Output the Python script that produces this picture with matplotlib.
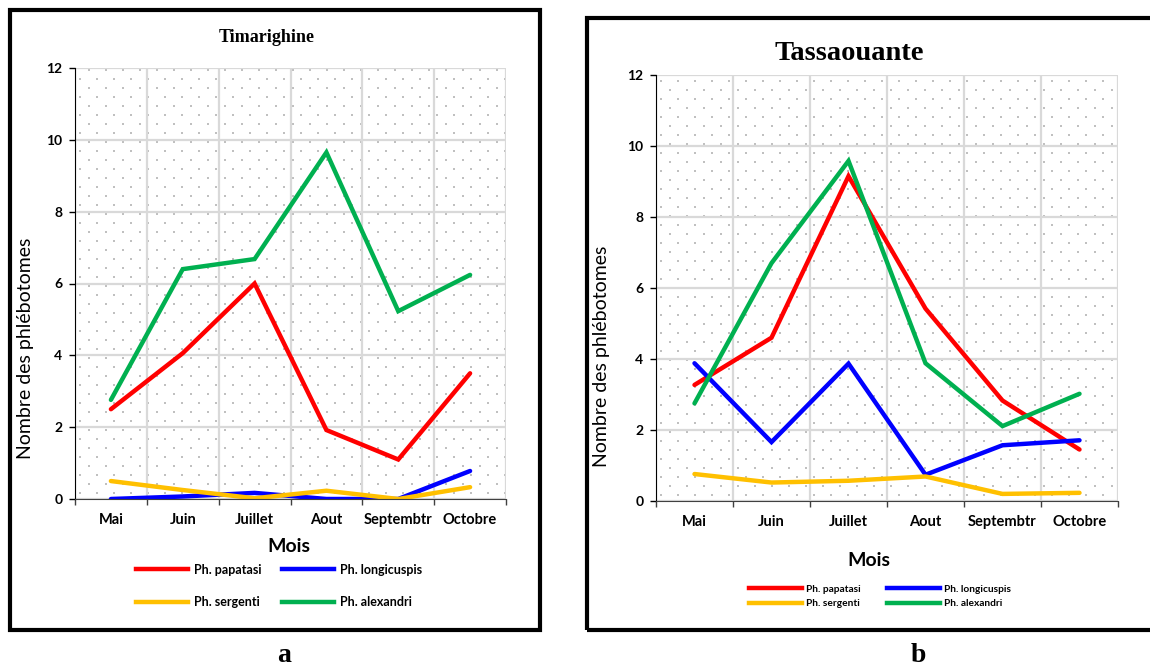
import numpy as np
import matplotlib
matplotlib.use("Agg")
import matplotlib.pyplot as plt
from matplotlib.patches import Rectangle
from matplotlib.lines import Line2D

# ---------------- data ----------------
months = ["Mai", "Juin", "Juillet", "Aout", "Septembtr", "Octobre"]
species = ["Ph. papatasi", "Ph. longicuspis", "Ph. sergenti", "Ph. alexandri"]
colors = ["#FF0000", "#0000FF", "#FFC000", "#00B050"]

tim_papatasi = [2.5, 4.06, 6.0, 1.92, 1.1, 3.5]
tim_longicuspis = [0.0, 0.07, 0.17, 0.0, 0.0, 0.78]
tim_sergenti = [0.5, 0.25, 0.02, 0.23, 0.0, 0.33]
tim_alexandri = [2.76, 6.4, 6.68, 9.65, 5.23, 6.24]

tas_papatasi = [3.27, 4.6, 9.15, 5.42, 2.83, 1.45]
tas_longicuspis = [3.88, 1.66, 3.87, 0.74, 1.57, 1.71]
tas_sergenti = [0.76, 0.52, 0.57, 0.69, 0.2, 0.23]
tas_alexandri = [2.75, 6.7, 9.58, 3.88, 2.11, 3.02]

yticks = [0, 2, 4, 6, 8, 10, 12]

W, H = 1150, 668
fig = plt.figure(figsize=(W / 100, H / 100), dpi=100)


def fx(px):
    return px / W


def fy(py):
    return 1 - py / H


LAT = "Lato"
SERIF = "Liberation Serif"


def make_axes(rect, series, ylab_x, ylab_y):
    ax = fig.add_axes(rect)
    x = np.arange(1, len(months) + 1)
    # dotted background pattern
    bb = ax.get_position()
    wpx, hpx = bb.width * W, bb.height * H
    dx, dy = 17.0, 9.0
    pts_x, pts_y = [], []
    r = 0
    yy = 6.0
    while yy < hpx:
        xx = 5.0 + (dx / 2 if r % 2 else 0)
        while xx < wpx:
            pts_x.append(xx / wpx)
            pts_y.append(yy / hpx)
            xx += dx
        yy += dy
        r += 1
    ax.scatter(pts_x, pts_y, s=1.5, c="#c0c0c0", marker="s", linewidths=0,
               transform=ax.transAxes, zorder=0.5)
    for vals, c in zip(series, colors):
        ax.plot(x, vals, color=c, lw=3.2, solid_capstyle="round",
                solid_joinstyle="miter", zorder=3)
    ax.set_xlim(0.5, len(months) + 0.5)
    ax.set_ylim(0, 12)
    ax.set_xticks(np.arange(0.5, len(months) + 1, 1))
    ax.set_xticklabels([])
    ax.set_xticks(x, minor=True)
    ax.set_xticklabels(months, minor=True, fontsize=10.5, fontweight="bold",
                       family=LAT)
    ax.tick_params(axis="x", which="minor", length=0, pad=10)
    ax.tick_params(axis="x", which="major", length=4, width=1, direction="out",
                   color="#404040")
    ax.set_yticks(yticks)
    ax.set_yticklabels([str(v) for v in yticks], fontsize=10,
                       fontweight="bold", family=LAT)
    ax.tick_params(axis="y", length=4, width=1, pad=5, direction="out")
    ax.grid(True, which="major", color="#d9d9d9", lw=1.6, zorder=1)
    ax.set_axisbelow(True)
    for s in ["top", "right"]:
        ax.spines[s].set_visible(False)
    ax.spines["left"].set_color("black")
    ax.spines["bottom"].set_color("#404040")
    ax.spines["left"].set_zorder(4)
    ax.spines["bottom"].set_zorder(4)
    ax.set_ylabel("Nombre des phlébotomes", fontsize=14, family=LAT)
    ax.yaxis.set_label_coords(ylab_x, ylab_y)
    return ax


# left panel -- Timarighine
axL = make_axes([fx(75), fy(499), fx(506 - 75), (499 - 68) / H],
                [tim_papatasi, tim_longicuspis, tim_sergenti, tim_alexandri],
                -0.095, 0.35)
# right panel -- Tassaouante
axR = make_axes([fx(656), fy(501), fx(1118 - 656), (501 - 75) / H],
                [tas_papatasi, tas_longicuspis, tas_sergenti, tas_alexandri],
                -0.099, 0.34)

# frames
fig.add_artist(Rectangle((fx(10), fy(630)), fx(540 - 10), (630 - 10) / H,
                         transform=fig.transFigure, fill=False, lw=3,
                         ec="black", zorder=10))
fig.add_artist(Rectangle((fx(587), fy(630)), fx(1170 - 587), (630 - 18) / H,
                         transform=fig.transFigure, fill=False, lw=3,
                         ec="black", zorder=10, clip_on=False))

# titles and labels
fig.text(fx(267), fy(37), "Timarighine", ha="center", va="center",
         fontsize=13, fontweight="bold", family=SERIF)
fig.text(fx(849), fy(54), "Tassaouante", ha="center", va="center",
         fontsize=20.5, fontweight="bold", family=SERIF)
fig.text(fx(289), fy(547), "Mois", ha="center", va="center",
         fontsize=14, fontweight="bold", family=LAT)
fig.text(fx(869), fy(560), "Mois", ha="center", va="center",
         fontsize=14, fontweight="bold", family=LAT)
fig.text(fx(284), fy(655), "a", ha="center", va="center",
         fontsize=20, fontweight="bold", family=SERIF)
fig.text(fx(918), fy(655), "b", ha="center", va="center",
         fontsize=20, fontweight="bold", family=SERIF)

# legends (column order: papatasi, sergenti | longicuspis, alexandri)
order = [0, 2, 1, 3]
labs = [species[i] for i in order]
hL = [Line2D([], [], color=colors[i], lw=3.2) for i in order]
fig.legend(hL, labs, ncol=2, loc="center",
           bbox_to_anchor=(fx(279), fy(586)), frameon=False,
           prop={"family": LAT, "weight": "bold", "size": 9},
           handlelength=4.15, handletextpad=0.5, columnspacing=1.6,
           labelspacing=1.64, borderpad=0)
hR = [Line2D([], [], color=colors[i], lw=3.2) for i in order]
fig.legend(hR, labs, ncol=2, loc="center",
           bbox_to_anchor=(fx(880), fy(596.5)), frameon=False,
           prop={"family": LAT, "weight": "bold", "size": 7.3},
           handlelength=5.2, handletextpad=0.4, columnspacing=2.6,
           labelspacing=0.5, borderpad=0)

fig.savefig("out.png", dpi=100, facecolor="white")
